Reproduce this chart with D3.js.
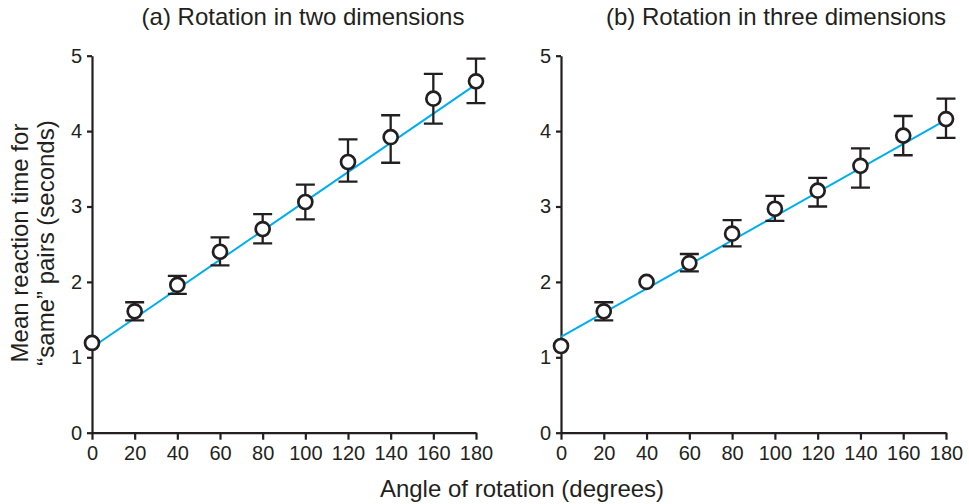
<!DOCTYPE html>
<html>
<head>
<meta charset="utf-8">
<script src="https://cdn.jsdelivr.net/npm/d3@7"></script>
<style>
  body { margin: 0; background: #fff; }
  svg { display: block; font-family: "Liberation Sans", Arial, Helvetica, sans-serif; }
  .axis path, .axis line { stroke: #231f20; stroke-width: 2.2; }
  .axis text { fill: #231f20; font-size: 20px; }
</style>
</head>
<body>
<svg width="969" height="504"></svg>
<script>
var angles = [0, 20, 40, 60, 80, 100, 120, 140, 160, 180];
var yTicks = [0, 1, 2, 3, 4, 5];

// (a) two dimensions
var meanA  = [1.19, 1.61, 1.96, 2.40, 2.70, 3.06, 3.59, 3.92, 4.43, 4.66];
var upperA = [null, 1.73, 2.08, 2.59, 2.90, 3.29, 3.89, 4.21, 4.76, 4.96];
var lowerA = [null, 1.49, 1.84, 2.22, 2.51, 2.83, 3.33, 3.58, 4.10, 4.37];
var fitA   = [1.13, 4.62];   // at 0 and 180 degrees

// (b) three dimensions
var meanB  = [1.15, 1.61, 2.00, 2.25, 2.64, 2.97, 3.21, 3.54, 3.94, 4.16];
var upperB = [null, 1.73, null, 2.37, 2.82, 3.14, 3.38, 3.77, 4.20, 4.43];
var lowerB = [null, 1.49, null, 2.14, 2.47, 2.81, 3.00, 3.25, 3.68, 3.91];
var fitB   = [1.27, 4.15];

var titles = ["(a) Rotation in two dimensions", "(b) Rotation in three dimensions"];

var svg = d3.select("svg");
var ink = "#231f20";

var y = d3.scaleLinear().domain([0, 5]).range([432.7, 55.7]);

var panels = [
    { x0: 92, x1: 476, mean: meanA, upper: upperA, lower: lowerA, fit: fitA, title: titles[0], tx: 303 },
    { x0: 561, x1: 946, mean: meanB, upper: upperB, lower: lowerB, fit: fitB, title: titles[1], tx: 776 }
];

panels.forEach(function(p) {
    var x = d3.scaleLinear().domain([0, 180]).range([p.x0, p.x1]);
    var g = svg.append("g");

    g.append("g")
        .attr("class", "axis")
        .attr("transform", "translate(0," + y(0) + ")")
        .call(d3.axisBottom(x).tickValues(angles).tickSize(7).tickSizeOuter(0).tickPadding(6));

    g.append("g")
        .attr("class", "axis")
        .attr("transform", "translate(" + p.x0 + ",0)")
        .call(d3.axisLeft(y).tickValues(yTicks).tickFormat(d3.format("d")).tickSize(5).tickSizeOuter(0).tickPadding(5));

    // fitted line
    g.append("line")
        .attr("x1", x(0)).attr("y1", y(p.fit[0]))
        .attr("x2", x(180)).attr("y2", y(p.fit[1]))
        .attr("stroke", "#00aeef")
        .attr("stroke-width", 2);

    var pts = angles.map(function(a, i) {
        return { a: a, m: p.mean[i], hi: p.upper[i], lo: p.lower[i] };
    });

    // error bars
    g.append("g")
        .attr("stroke", ink)
        .attr("stroke-width", 2.3)
        .attr("fill", "none")
        .selectAll("path")
        .data(pts.filter(function(d) { return d.hi != null; }))
        .enter().append("path")
        .attr("d", function(d) {
            var cx = x(d.a), w = 9.5;
            return "M" + (cx - w) + "," + y(d.hi) + "H" + (cx + w) +
                   "M" + cx + "," + y(d.hi) + "V" + y(d.lo) +
                   "M" + (cx - w) + "," + y(d.lo) + "H" + (cx + w);
        });

    // points
    g.selectAll("circle")
        .data(pts)
        .enter().append("circle")
        .attr("cx", function(d) { return x(d.a); })
        .attr("cy", function(d) { return y(d.m); })
        .attr("r", 7)
        .attr("fill", "#fff")
        .attr("stroke", ink)
        .attr("stroke-width", 2.7);

    g.append("text")
        .attr("x", p.tx)
        .attr("y", 25)
        .attr("text-anchor", "middle")
        .attr("font-size", 24)
        .attr("fill", ink)
        .text(p.title);
});

// axis labels
svg.append("text")
    .attr("x", 522)
    .attr("y", 497)
    .attr("text-anchor", "middle")
    .attr("font-size", 24)
    .attr("fill", ink)
    .text("Angle of rotation (degrees)");

var yl = svg.append("text")
    .attr("transform", "translate(0,243) rotate(-90)")
    .attr("text-anchor", "middle")
    .attr("font-size", 24)
    .attr("fill", ink);
yl.append("tspan").attr("x", 0).attr("y", 28).text("Mean reaction time for");
yl.append("tspan").attr("x", 0).attr("y", 54).text("\u201csame\u201d pairs (seconds)");
</script>
</body>
</html>
